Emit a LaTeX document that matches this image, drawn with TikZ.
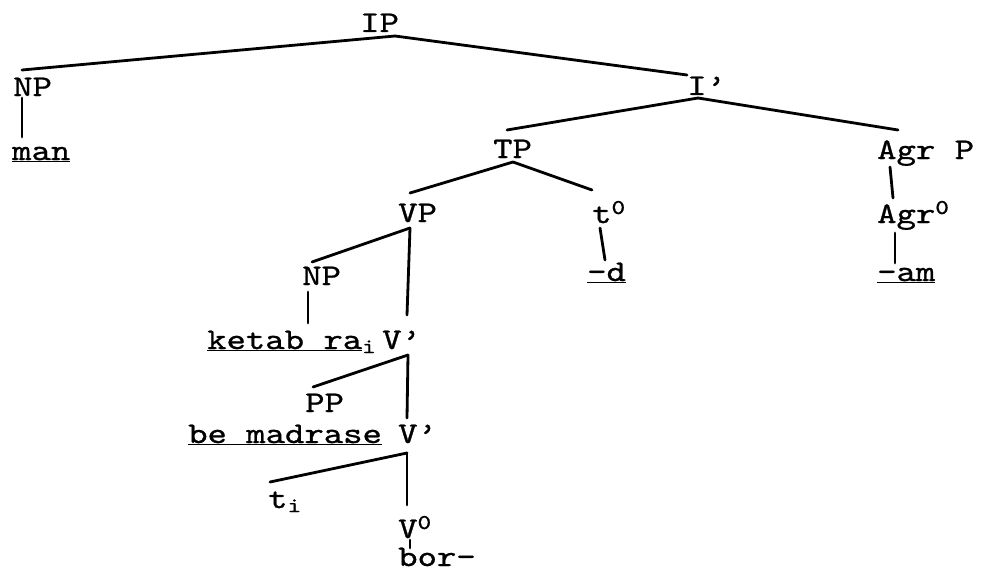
\documentclass[tikz,border=0pt]{standalone}
\usepackage{fontspec}
\newfontfamily\tw{lmmono10-regular.otf}[FakeStretch=1.23,FakeBold=0.9]
\tikzset{
  lbl/.style={anchor=base west, inner sep=0pt, font=\tw\fontsize{30}{36}\selectfont},
  edge/.style={line width=2.8pt, line cap=round}
}
\begin{document}
\begin{tikzpicture}[x=1pt,y=-1pt]
\useasboundingbox (0,0) rectangle (984,575);
% nodes
\node[lbl] (IP) at (360,32) {IP};
\node[lbl] (np1) at (13,96) {NP};
\node[lbl] (man) at (12,160) {\underline{man}};
\node[lbl] (ibar) at (687,95) {I’};
\node[lbl] (tp) at (493,158) {TP};
\node[lbl] (agrp) at (877,159) {Agr P};
\node[lbl] (t0) at (592,223) {t\textsuperscript{0}};
\node[lbl] (d) at (587,281) {\underline{-d}};
\node[lbl] (agr0) at (877,223) {Agr\textsuperscript{0}};
\node[lbl] (am) at (877,281) {\underline{-am}};
\node[lbl] (vp) at (398,222) {VP};
\node[lbl] (np2) at (302,285) {NP};
\node[lbl] (ketab) at (207,349) {\underline{ketab ra}\textsubscript{i}};
\node[lbl] (vbar1) at (382,349) {V’};
\node[lbl] (pp) at (305,412) {PP};
\node[lbl] (madrase) at (188,443) {\underline{be madrase}};
\node[lbl] (vbar2) at (398,443) {V’};
\node[lbl] (ti) at (268,508) {t\textsubscript{i}};
\node[lbl] (v0) at (398,538) {V\textsuperscript{0}};
\node[lbl] (bor) at (398,566) {bor-};
% connectors
\draw[edge] ([shift={(35,4)}]IP.base west) -- ([shift={(9,-26)}]np1.base west);
\draw[edge] ([shift={(35,4)}]IP.base west) -- ([shift={(0,-20)}]ibar.base west);
\draw[edge] ([shift={(11,3)}]ibar.base west) -- ([shift={(14,-28)}]tp.base west);
\draw[edge] ([shift={(11,3)}]ibar.base west) -- ([shift={(21,-29)}]agrp.base west);
\draw[edge] ([shift={(9,2)}]np1.base west) -- ([shift={(10,-23)}]man.base west);
\draw[edge] ([shift={(20,4)}]tp.base west) -- ([shift={(0,-33)}]t0.base west);
\draw[edge] ([shift={(20,4)}]tp.base west) -- ([shift={(12,-29)}]vp.base west);
\draw[edge] ([shift={(8,5)}]t0.base west) -- ([shift={(18,-21)}]d.base west);
\draw[edge] ([shift={(13,8)}]agrp.base west) -- ([shift={(16,-25)}]agr0.base west);
\draw[edge] ([shift={(18,10)}]agr0.base west) -- ([shift={(18,-18)}]am.base west);
\draw[edge] ([shift={(12,6)}]vp.base west) -- ([shift={(10,-23)}]np2.base west);
\draw[edge] ([shift={(12,6)}]vp.base west) -- ([shift={(25,-34)}]vbar1.base west);
\draw[edge] ([shift={(6,7)}]np2.base west) -- ([shift={(101,-26)}]ketab.base west);
\draw[edge] ([shift={(26,6)}]vbar1.base west) -- ([shift={(8,-25)}]pp.base west);
\draw[edge] ([shift={(26,6)}]vbar1.base west) -- ([shift={(9,-25)}]vbar2.base west);
\draw[edge] ([shift={(9,10)}]vbar2.base west) -- ([shift={(2,-26)}]ti.base west);
\draw[edge] ([shift={(9,10)}]vbar2.base west) -- ([shift={(9,-33)}]v0.base west);
\draw[edge] ([shift={(12,2)}]v0.base west) -- ([shift={(12,-18)}]bor.base west);
\end{tikzpicture}
\end{document}
